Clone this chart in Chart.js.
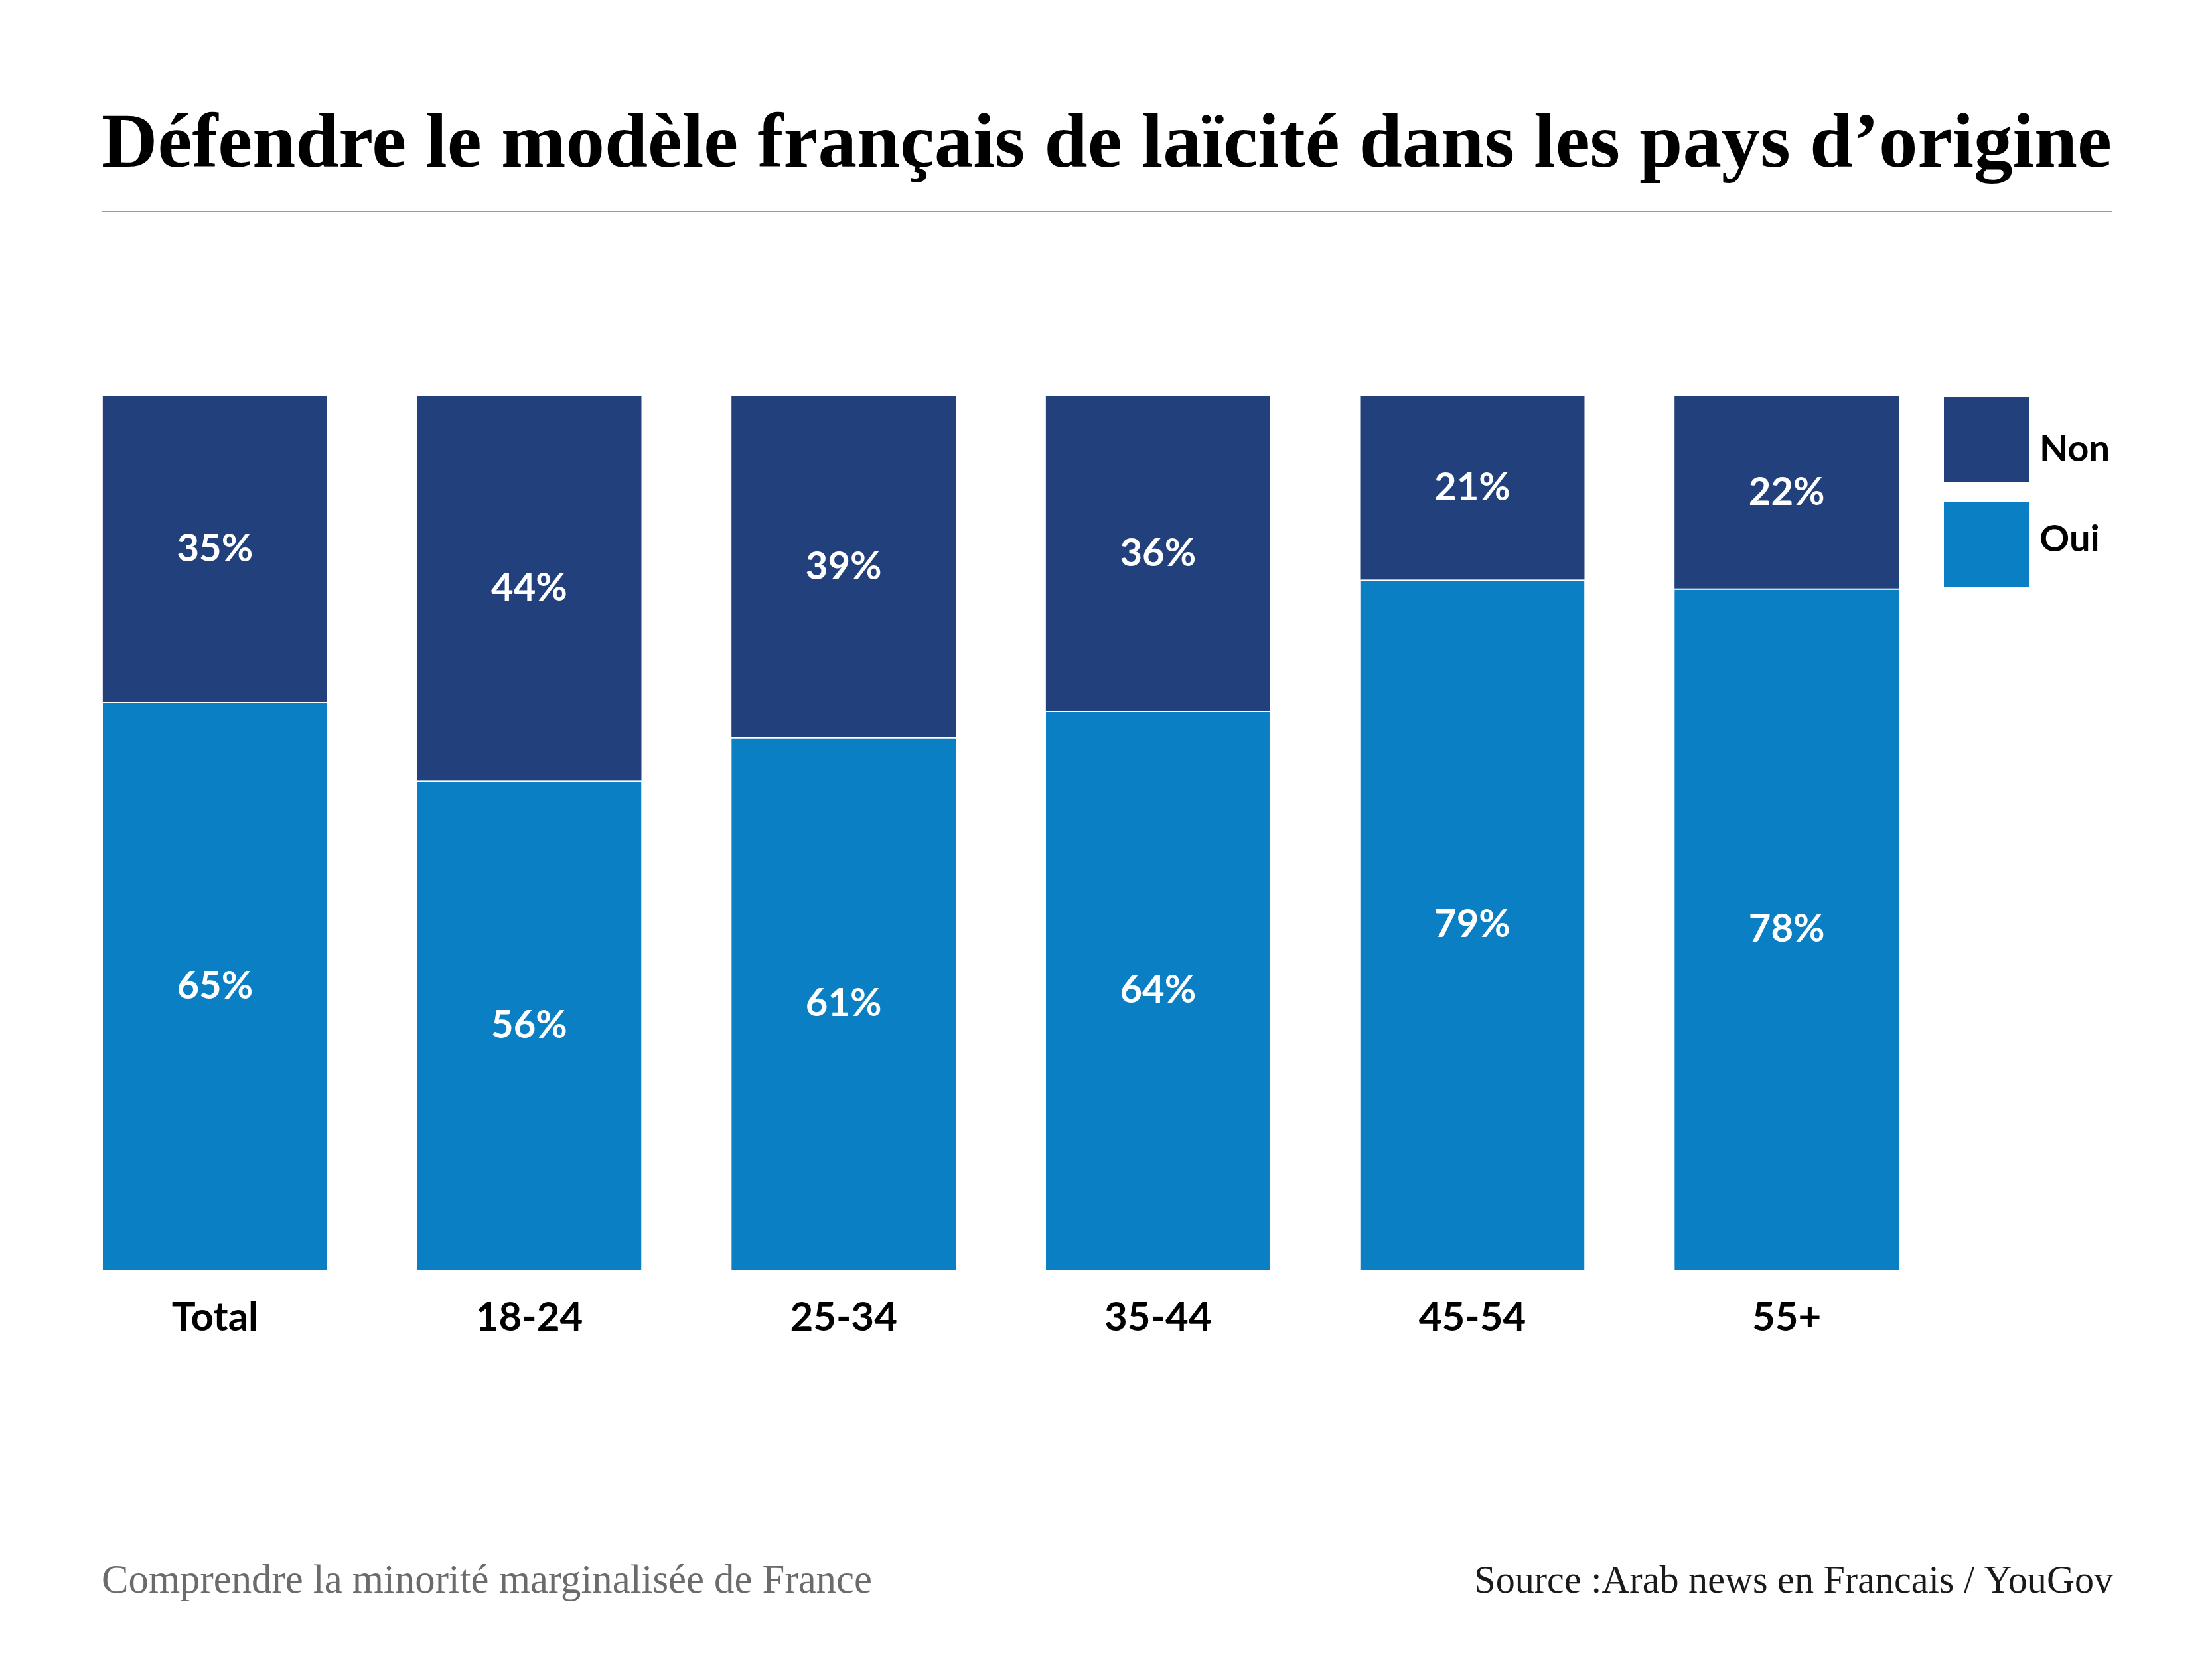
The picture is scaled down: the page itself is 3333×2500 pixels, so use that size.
<!DOCTYPE html>
<html><head><meta charset="utf-8">
<script src="https://cdn.jsdelivr.net/npm/chart.js@4.4.1/dist/chart.umd.min.js"></script>
<style>html,body{margin:0;padding:0;background:#fff}#wrap{width:3333px;height:2500px}canvas{display:block}</style>
</head><body><div id="wrap"><canvas id="c" width="3333" height="2500"></canvas></div>
<script>
const titleText = "Défendre le modèle français de laïcité dans les pays d’origine";
const categories = ["Total", "18-24", "25-34", "35-44", "45-54", "55+"];
const ouiValues = [65, 56, 61, 64, 79, 78];
const nonValues = [35, 44, 39, 36, 21, 22];
const seriesNames = ["Oui", "Non"];
const noteText = "Comprendre la minorité marginalisée de France";
const sourceText = "Source :Arab news en Francais / YouGov";

const COL_OUI = "#0a7fc4";
const COL_NON = "#22417c";
const SANS = "Lato, 'Noto Sans', sans-serif";
const SERIF = "'Liberation Serif', 'DejaVu Serif', serif";

function fitFont(ctx, text, weight, family, targetW) {
  ctx.font = `${weight} 100px ${family}`;
  const w = ctx.measureText(text).width;
  return 100 * targetW / w;
}

const decor = {
  id: 'decor',
  afterDraw(chart) {
    const ctx = chart.ctx;
    ctx.save();
    // title
    const ts = fitFont(ctx, titleText, 'bold', SERIF, 3029);
    ctx.font = `bold ${ts}px ${SERIF}`;
    ctx.fillStyle = '#000';
    ctx.textAlign = 'left';
    ctx.textBaseline = 'alphabetic';
    ctx.fillText(titleText, 153, 251);
    // rule
    ctx.fillStyle = '#9a9a9a';
    ctx.fillRect(153, 318, 3030, 2);
    // value labels
    ctx.font = `bold 58px ${SANS}`;
    ctx.fillStyle = '#fff';
    ctx.textAlign = 'center';
    ctx.textBaseline = 'middle';
    chart.data.datasets.forEach((ds, di) => {
      const meta = chart.getDatasetMeta(di);
      meta.data.forEach((bar, i) => {
        const y = (bar.y + bar.base) / 2;
        ctx.fillText(ds.data[i] + '%', bar.x, y);
      });
    });
    // legend (Non on top, Oui below)
    const items = [chart.data.datasets[1], chart.data.datasets[0]];
    const textOffsets = [78, 56];
    const bx = chart.chartArea.right, by0 = chart.chartArea.top + 2;
    items.forEach((ds, k) => {
      const y = by0 + k * 158;
      ctx.fillStyle = ds.backgroundColor;
      ctx.fillRect(bx, y, 129, 128);
      ctx.fillStyle = '#000';
      ctx.font = `bold 56px ${SANS}`;
      ctx.textAlign = 'left';
      ctx.textBaseline = 'middle';
      ctx.fillText(ds.label, bx + 144, y + textOffsets[k]);
    });
    // footer
    const ns = fitFont(ctx, noteText, 'normal', SERIF, 1161);
    ctx.font = `normal ${ns}px ${SERIF}`;
    ctx.fillStyle = '#6b6b6b';
    ctx.textAlign = 'left';
    ctx.textBaseline = 'alphabetic';
    ctx.fillText(noteText, 153, 2400);
    const ss = fitFont(ctx, sourceText, 'normal', SERIF, 963);
    ctx.font = `normal ${ss}px ${SERIF}`;
    ctx.fillStyle = '#1a1a1a';
    ctx.textAlign = 'right';
    ctx.fillText(sourceText, 3184, 2400);
    ctx.restore();
  }
};

new Chart(document.getElementById('c'), {
  type: 'bar',
  data: {
    labels: categories,
    datasets: [
      { label: seriesNames[0], data: ouiValues, backgroundColor: COL_OUI, borderColor: '#ffffff',
        borderWidth: { top: 2, left: 0, right: 0, bottom: 0 }, borderSkipped: false },
      { label: seriesNames[1], data: nonValues, backgroundColor: COL_NON, borderWidth: 0 }
    ]
  },
  options: {
    responsive: false,
    animation: false,
    devicePixelRatio: 1,
    layout: { padding: { left: 87, right: 404, top: 597, bottom: 442 } },
    plugins: { legend: { display: false }, tooltip: { enabled: false }, title: { display: false } },
    datasets: { bar: { categoryPercentage: 1, barPercentage: 0.7135 } },
    scales: {
      x: {
        stacked: true,
        grid: { display: false, drawTicks: false },
        border: { display: false },
        ticks: { color: '#000', font: { family: SANS, weight: 'bold', size: 60 }, padding: 36 }
      },
      y: { stacked: true, display: false, min: 0, max: 100 }
    }
  },
  plugins: [decor]
});
</script></body></html>
